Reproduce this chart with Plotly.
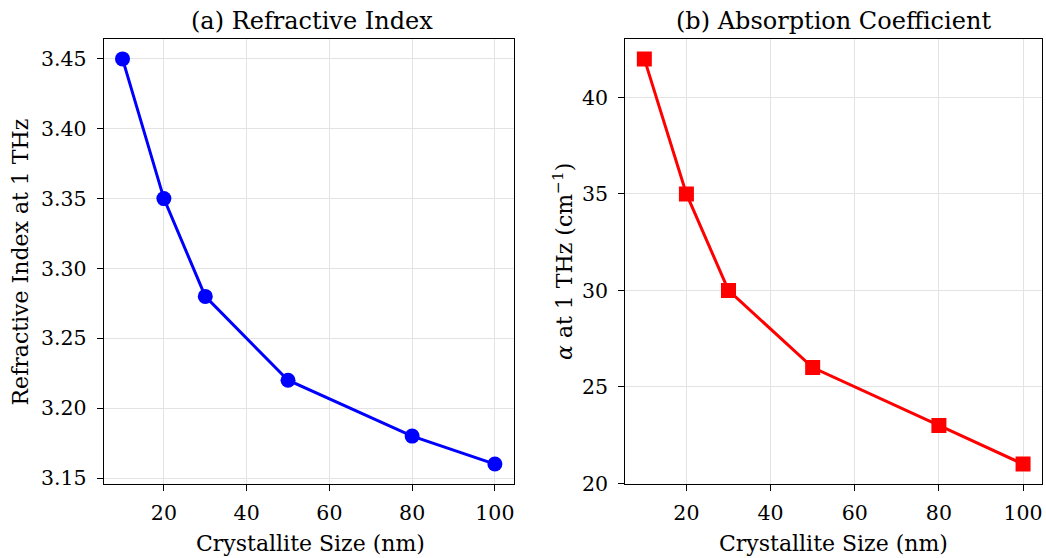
import plotly.graph_objects as go

size_nm = [10, 20, 30, 50, 80, 100]
refractive_index = [3.45, 3.35, 3.28, 3.22, 3.18, 3.16]
absorption = [42, 35, 30, 26, 23, 21]

W, H = 1046, 558
FONT = "DejaVu Serif"

def px_x(p):
    return p / W

def px_y(p):
    # compensate for the observed vertical rendering scale
    t = (p - 0.34) / 0.981
    return 1 - t / H

fig = go.Figure()
fig.add_trace(go.Scatter(x=size_nm, y=refractive_index, mode="lines+markers",
                         line=dict(color="#0000ff", width=3),
                         marker=dict(symbol="circle", size=15, color="#0000ff"),
                         xaxis="x", yaxis="y", showlegend=False))
fig.add_trace(go.Scatter(x=size_nm, y=absorption, mode="lines+markers",
                         line=dict(color="#ff0000", width=3),
                         marker=dict(symbol="square", size=15, color="#ff0000"),
                         xaxis="x2", yaxis="y2", showlegend=False))

def span(vals):
    lo, hi = min(vals), max(vals)
    m = (hi - lo) * 0.05
    return [lo - m, hi + m]

ax_common = dict(showline=True, linecolor="black", linewidth=1.3, mirror=True,
                 ticks="outside", ticklen=6, tickwidth=1.3, tickcolor="black",
                 showgrid=True, gridcolor="#e3e3e3", gridwidth=1, zeroline=False,
                 tickfont=dict(family=FONT, size=20.5, color="black"))

fig.update_layout(
    width=W, height=H, margin=dict(l=0, r=0, t=0, b=0),
    paper_bgcolor="white", plot_bgcolor="white",
    xaxis=dict(domain=[px_x(104), px_x(514)], range=span(size_nm), anchor="y",
               tickvals=[20, 40, 60, 80, 100], ticklabelstandoff=4, **ax_common),
    yaxis=dict(domain=[px_y(485), px_y(39)], range=span(refractive_index), anchor="x",
               tickvals=[3.15, 3.20, 3.25, 3.30, 3.35, 3.40, 3.45], tickformat=".2f",
               ticklabelstandoff=6, **ax_common),
    xaxis2=dict(domain=[px_x(626), px_x(1043)], range=span(size_nm), anchor="y2",
                tickvals=[20, 40, 60, 80, 100], ticklabelstandoff=4, **ax_common),
    yaxis2=dict(domain=[px_y(485), px_y(39)], range=span(absorption), anchor="x2",
                tickvals=[20, 25, 30, 35, 40], ticklabelstandoff=6, **ax_common),
)

def ann(text, x, y, size, angle=0):
    fig.add_annotation(text=text, x=px_x(x), y=px_y(y), xref="paper", yref="paper",
                       showarrow=False, textangle=angle, xanchor="center", yanchor="middle",
                       font=dict(family=FONT, size=size, color="black"))

ann("(a) Refractive Index", 312, 21, 24)
ann("(b) Absorption Coefficient", 834, 21, 24)
ann("Crystallite Size (nm)", 311, 544, 22)
ann("Crystallite Size (nm)", 834, 544, 22)
ann("Refractive Index at 1 THz", 20, 262, 22, -90)
ann("<i>α</i> at 1 THz (cm<sup>−1</sup>)", 564, 262, 22, -90)

fig.write_html("out.html")
